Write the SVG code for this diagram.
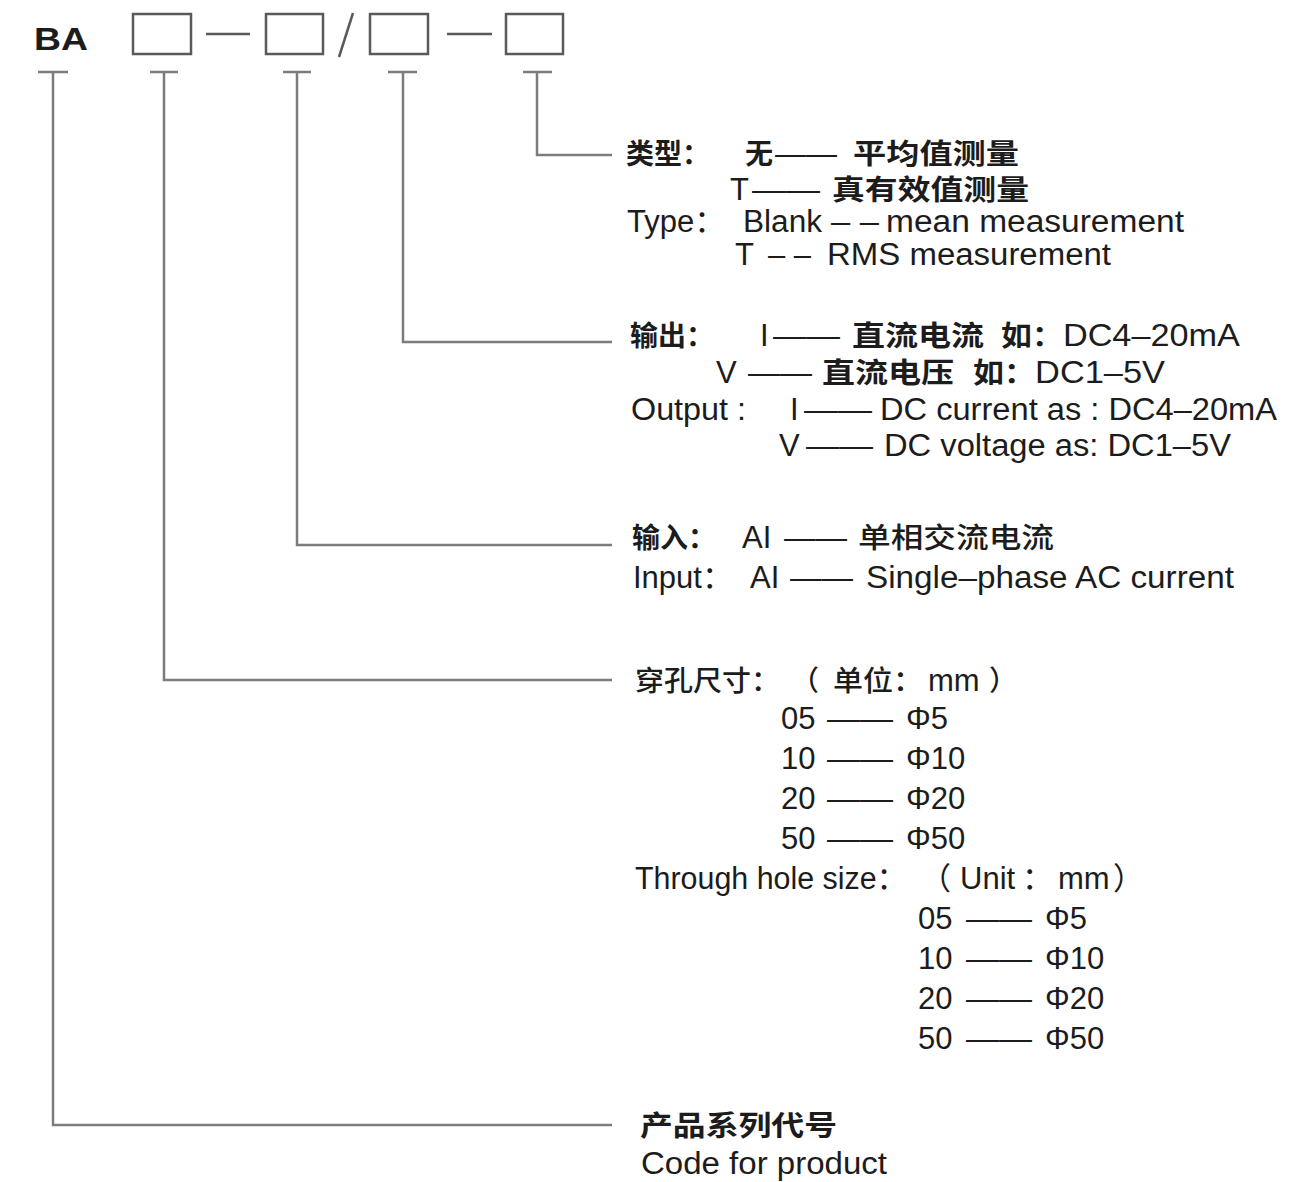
<svg xmlns="http://www.w3.org/2000/svg" width="1291" height="1182" viewBox="0 0 1291 1182">
<style>
.bx{fill:none;stroke:#5a5a5a;stroke-width:2.5}
.c{fill:none;stroke:#7c7c7c;stroke-width:2.5}
text{font-family:"Liberation Sans","Noto Sans CJK SC",sans-serif;font-size:31px;fill:#1c1c1c}
.cb{font-family:"Noto Sans CJK SC",sans-serif;font-size:28px;font-weight:700}
.cn{font-family:"Noto Sans CJK SC",sans-serif;font-size:28px;font-weight:500}
</style>
<rect width="1291" height="1182" fill="#fff"/>
<g id="code">
<text x="34" y="50" font-size="42" font-weight="700" textLength="54" lengthAdjust="spacingAndGlyphs">BA</text>
<rect class="bx" x="133" y="14" width="58" height="40"/>
<line class="bx" x1="206" y1="34" x2="250" y2="34"/>
<rect class="bx" x="266" y="14" width="57" height="40"/>
<line class="bx" x1="353" y1="13" x2="339" y2="57"/>
<rect class="bx" x="370" y="14" width="58" height="40"/>
<line class="bx" x1="447" y1="34" x2="492" y2="34"/>
<rect class="bx" x="506" y="14" width="57" height="40"/>
</g>
<g id="connectors">
<path class="c" d="M38 72H68M150 72H178M283 72H311M388 72H417M523 72H552"/>
<path class="c" d="M53 72V1125H612"/>
<path class="c" d="M164 72V680H612"/>
<path class="c" d="M297 72V545H612"/>
<path class="c" d="M403 72V342H612"/>
<path class="c" d="M537 72V155H612"/>
</g>
<g id="type">
<text class="cb" x="626" y="164" textLength="84" lengthAdjust="spacingAndGlyphs">类型：</text>
<text class="cb" x="745" y="164">无</text>
<text x="775" y="164" textLength="62" lengthAdjust="spacingAndGlyphs">——</text>
<text class="cb" x="853" y="164" textLength="166" lengthAdjust="spacingAndGlyphs">平均值测量</text>
<text x="730" y="200">T</text>
<text x="752" y="200" textLength="68" lengthAdjust="spacingAndGlyphs">——</text>
<text class="cb" x="832" y="200" textLength="197" lengthAdjust="spacingAndGlyphs">真有效值测量</text>
<text x="627" y="232">Type：</text>
<text x="743" y="232" textLength="79" lengthAdjust="spacingAndGlyphs">Blank</text>
<text x="831" y="232" textLength="48" lengthAdjust="spacingAndGlyphs">– –</text>
<text x="886" y="232" textLength="298" lengthAdjust="spacingAndGlyphs">mean measurement</text>
<text x="735" y="265">T</text>
<text x="768" y="265">– –</text>
<text x="827" y="265" textLength="284" lengthAdjust="spacingAndGlyphs">RMS measurement</text>
</g>
<g id="output">
<text class="cb" x="630" y="346" textLength="84" lengthAdjust="spacingAndGlyphs">输出：</text>
<text x="760" y="346">I</text>
<text x="773" y="346" textLength="67" lengthAdjust="spacingAndGlyphs">——</text>
<text class="cb" x="852" y="346" textLength="132" lengthAdjust="spacingAndGlyphs">直流电流</text>
<text x="1001" y="346" textLength="239" lengthAdjust="spacingAndGlyphs"><tspan class="cb">如：</tspan>DC4–20mA</text>
<text x="716" y="383">V</text>
<text x="748" y="383" textLength="64" lengthAdjust="spacingAndGlyphs">——</text>
<text class="cb" x="822" y="383" textLength="132" lengthAdjust="spacingAndGlyphs">直流电压</text>
<text x="973" y="383" textLength="192" lengthAdjust="spacingAndGlyphs"><tspan class="cb">如：</tspan>DC1–5V</text>
<text x="631" y="420" textLength="115" lengthAdjust="spacingAndGlyphs">Output :</text>
<text x="790" y="420">I</text>
<text x="804" y="420" textLength="68" lengthAdjust="spacingAndGlyphs">——</text>
<text x="880" y="420" textLength="397" lengthAdjust="spacingAndGlyphs">DC current as : DC4–20mA</text>
<text x="779" y="456">V</text>
<text x="806" y="456" textLength="67" lengthAdjust="spacingAndGlyphs">——</text>
<text x="884" y="456" textLength="347" lengthAdjust="spacingAndGlyphs">DC voltage as: DC1–5V</text>
</g>
<g id="input">
<text class="cb" x="632" y="548" textLength="84" lengthAdjust="spacingAndGlyphs">输入：</text>
<text x="742" y="548">AI</text>
<text x="784" y="548" textLength="63" lengthAdjust="spacingAndGlyphs">——</text>
<text class="cn" x="858" y="548" textLength="196" lengthAdjust="spacingAndGlyphs">单相交流电流</text>
<text x="633" y="588">Input：</text>
<text x="750" y="588">AI</text>
<text x="790" y="588" textLength="63" lengthAdjust="spacingAndGlyphs">——</text>
<text x="866" y="588" textLength="368" lengthAdjust="spacingAndGlyphs">Single–phase AC current</text>
</g>
<g id="hole">
<text class="cn" x="635" y="691" textLength="145" lengthAdjust="spacingAndGlyphs">穿孔尺寸：</text>
<text class="cn" x="791" y="691">（</text>
<text class="cn" x="833" y="691" textLength="90" lengthAdjust="spacingAndGlyphs">单位：</text>
<text x="928" y="691">mm</text>
<text class="cn" x="989" y="691">）</text>
<text x="781" y="729">05</text>
<text x="827" y="729" textLength="66" lengthAdjust="spacingAndGlyphs">——</text>
<text x="906" y="729">Φ5</text>
<text x="781" y="769">10</text>
<text x="827" y="769" textLength="66" lengthAdjust="spacingAndGlyphs">——</text>
<text x="906" y="769">Φ10</text>
<text x="781" y="809">20</text>
<text x="827" y="809" textLength="66" lengthAdjust="spacingAndGlyphs">——</text>
<text x="906" y="809">Φ20</text>
<text x="781" y="849">50</text>
<text x="827" y="849" textLength="66" lengthAdjust="spacingAndGlyphs">——</text>
<text x="906" y="849">Φ50</text>
<text x="635" y="889" textLength="272" lengthAdjust="spacingAndGlyphs">Through hole size：</text>
<text x="920" y="889">（</text>
<text x="960" y="889">Unit</text>
<text x="1022" y="889">：</text>
<text x="1058" y="889">mm</text>
<text x="1113" y="889">）</text>
<text x="918" y="929">05</text>
<text x="966" y="929" textLength="66" lengthAdjust="spacingAndGlyphs">——</text>
<text x="1045" y="929">Φ5</text>
<text x="918" y="969">10</text>
<text x="966" y="969" textLength="66" lengthAdjust="spacingAndGlyphs">——</text>
<text x="1045" y="969">Φ10</text>
<text x="918" y="1009">20</text>
<text x="966" y="1009" textLength="66" lengthAdjust="spacingAndGlyphs">——</text>
<text x="1045" y="1009">Φ20</text>
<text x="918" y="1049">50</text>
<text x="966" y="1049" textLength="66" lengthAdjust="spacingAndGlyphs">——</text>
<text x="1045" y="1049">Φ50</text>
</g>
<g id="product">
<text class="cb" x="640" y="1136" textLength="197" lengthAdjust="spacingAndGlyphs">产品系列代号</text>
<text x="641" y="1174" textLength="246" lengthAdjust="spacingAndGlyphs">Code for product</text>
</g>
</svg>
